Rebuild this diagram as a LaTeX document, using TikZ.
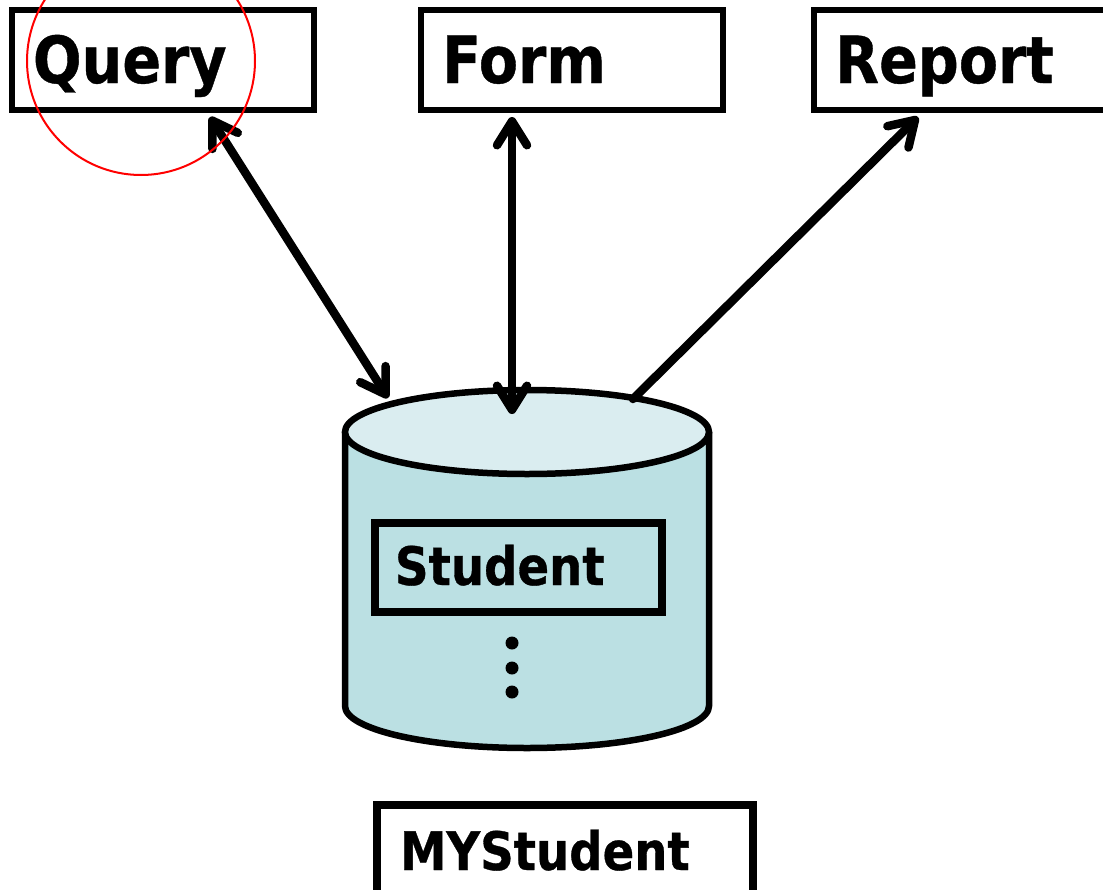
\documentclass[tikz,border=0pt]{standalone}
\usepackage{fontspec}
\setmainfont{DejaVu Sans}[FakeStretch=0.88, BoldFeatures={FakeBold=0.6}]
\usetikzlibrary{arrows.meta}
\definecolor{dbbody}{HTML}{BBE0E3}
\definecolor{dbtop}{HTML}{DAEDF0}

\begin{document}
\begin{tikzpicture}[x=1pt,y=-1pt,
    box/.style={draw, anchor=north west, align=left, inner ysep=0pt, outer sep=0pt},
    topbox/.style={box, line width=6.5pt, font=\bfseries\fontsize{65}{70}\selectfont,
      text width=260pt, inner xsep=21pt, minimum height=100pt, text height=48pt, text depth=2pt},
    tblbox/.style={box, line width=8pt, font=\bfseries\fontsize{53}{60}\selectfont},
    link/.style={line width=8.5pt, line cap=round},
    >={Straight Barb[length=24pt,width=30pt,round]}]
    \useasboundingbox (0,0) rectangle (1103,889);
    % database cylinder
    \filldraw[fill=dbbody, line width=6.5pt] (345,432) -- (345,706)
      arc[start angle=180, end angle=360, x radius=182pt, y radius=42pt] -- (709,432);
    \filldraw[fill=dbtop, line width=6.5pt] (527,432) ellipse[x radius=182pt, y radius=42pt];
    \node[tblbox, text width=247pt, inner xsep=20pt, minimum height=89pt,
      text height=38pt, text depth=3pt] (Student) at (375,523) {Student};
    \foreach \y in {643,668,692} {\fill (512,\y) circle[radius=6.5pt];}
    \node[tblbox, text width=330pt, inner xsep=23pt, minimum height=100pt,
      text height=33pt, text depth=3pt] (MYStudent) at (377,805) {MYStudent};
    % objects on top
    \foreach \lbl/\x in {Query/12,Form/421,Report/814} {\node[topbox] (\lbl) at (\x,10) {\lbl};}
    \coordinate (qTip) at (210,117);
    \coordinate (fTip) at (512,117);
    \coordinate (rTip) at (918,117);
    \coordinate (dbQ) at (388,398);
    \coordinate (dbF) at (512,414);
    \coordinate (dbR) at (633,399);
    \draw[link,<->] (qTip) -- (dbQ);
    \draw[link,<->] (fTip) -- (dbF);
    \draw[link,->] (dbR) -- (rTip);
    %mark
    \draw[red, line width=2pt] (141,61) circle[radius=114pt];
\end{tikzpicture}
\end{document}
